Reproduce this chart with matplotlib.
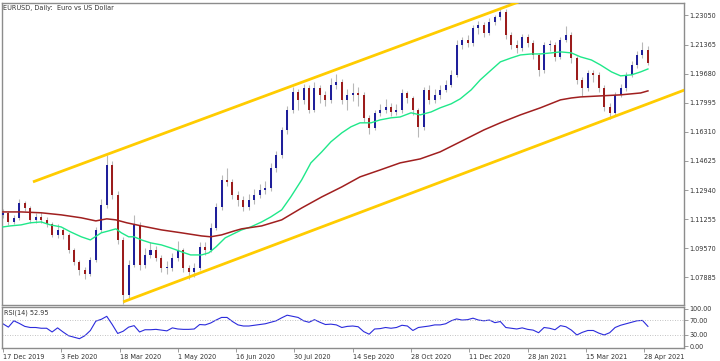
import matplotlib.pyplot as plt
import numpy as np

# EURUSD daily, one candle per 3 trading days
title = "EURUSD, Daily:  Euro vs US Dollar"
bar_step = 3
first_open = 1.1150

closes = [1.1162, 1.1109, 1.1133, 1.1219, 1.1190, 1.1121, 1.1138, 1.1121, 1.1098, 1.1034,
          1.1063, 1.1034, 1.0947, 1.0878, 1.0831, 1.0808, 1.0889, 1.1063, 1.1208, 1.1439,
          1.1266, 1.1005, 1.0687, 1.0860, 1.1092, 1.0860, 1.0918, 1.0947, 1.0901, 1.0843,
          1.0843, 1.0901, 1.0947, 1.0843, 1.0820, 1.0843, 1.0965, 1.0947, 1.1075, 1.1196,
          1.1353, 1.1341, 1.1266, 1.1237, 1.1196, 1.1237, 1.1266, 1.1295, 1.1306, 1.1422,
          1.1497, 1.1642, 1.1758, 1.1862, 1.1816, 1.1885, 1.1758, 1.1885, 1.1845, 1.1816,
          1.1903, 1.1920, 1.1816, 1.1845, 1.1856, 1.1845, 1.1712, 1.1654, 1.1741, 1.1758,
          1.1775, 1.1746, 1.1758, 1.1856, 1.1827, 1.1758, 1.1659, 1.1874, 1.1816, 1.1845,
          1.1874, 1.1903, 1.1961, 1.2134, 1.2163, 1.2146, 1.2233, 1.2250, 1.2204, 1.2267,
          1.2296, 1.2325, 1.2192, 1.2134, 1.2117, 1.2181, 1.2146, 1.2076, 1.1989, 1.2134,
          1.2134, 1.2065, 1.2163, 1.2192, 1.2059, 1.1932, 1.1885, 1.1972, 1.1961, 1.1885,
          1.1775, 1.1741, 1.1845, 1.1885, 1.1961, 1.2018, 1.2076, 1.2105, 1.2030]
highs = [1.1185, 1.1175, 1.1150, 1.1240, 1.1230, 1.1200, 1.1160, 1.1165, 1.1140, 1.1110,
         1.1095, 1.1075, 1.1045, 1.0960, 1.0890, 1.0850, 1.0905, 1.1080, 1.1240, 1.1495,
         1.1460, 1.1290, 1.1020, 1.0890, 1.1147, 1.1110, 1.0960, 1.0990, 1.0970, 1.0920,
         1.0880, 1.0930, 1.1000, 1.0960, 1.0860, 1.0870, 1.0990, 1.0995, 1.1100, 1.1220,
         1.1380, 1.1420, 1.1360, 1.1290, 1.1260, 1.1270, 1.1300, 1.1330, 1.1345, 1.1450,
         1.1520, 1.1660, 1.1780, 1.1890, 1.1880, 1.1910, 1.1900, 1.1920, 1.1900, 1.1870,
         1.1940, 1.1966, 1.1935, 1.1880, 1.1915, 1.1890, 1.1860, 1.1730, 1.1760, 1.1790,
         1.1820, 1.1800, 1.1790, 1.1880, 1.1870, 1.1840, 1.1770, 1.1890, 1.1900, 1.1880,
         1.1900, 1.1930, 1.1990, 1.2160, 1.2180, 1.2190, 1.2250, 1.2275, 1.2265, 1.2290,
         1.2310, 1.2349, 1.2340, 1.2210, 1.2160, 1.2200, 1.2195, 1.2160, 1.2090, 1.2150,
         1.2165, 1.2150, 1.2180, 1.2243, 1.2210, 1.2070, 1.1950, 1.1990, 1.1990, 1.1975,
         1.1900, 1.1800, 1.1860, 1.1910, 1.1980, 1.2040, 1.2100, 1.2150, 1.2130]
lows = [1.1130, 1.1090, 1.1095, 1.1120, 1.1170, 1.1100, 1.1105, 1.1100, 1.1080, 1.1020,
        1.1015, 1.1010, 1.0930, 1.0860, 1.0800, 1.0778, 1.0795, 1.0875, 1.1050, 1.1190,
        1.1240, 1.0980, 1.0636, 1.0670, 1.0850, 1.0830, 1.0840, 1.0900, 1.0880, 1.0820,
        1.0810, 1.0825, 1.0885, 1.0820, 1.0780, 1.0790, 1.0830, 1.0920, 1.0935, 1.1060,
        1.1180, 1.1320, 1.1240, 1.1200, 1.1170, 1.1180, 1.1215, 1.1250, 1.1270, 1.1290,
        1.1400, 1.1480, 1.1620, 1.1740, 1.1760, 1.1790, 1.1740, 1.1745, 1.1800, 1.1780,
        1.1800, 1.1880, 1.1790, 1.1760, 1.1810, 1.1780, 1.1690, 1.1620, 1.1640, 1.1720,
        1.1740, 1.1720, 1.1730, 1.1740, 1.1800, 1.1730, 1.1603, 1.1640, 1.1790, 1.1800,
        1.1820, 1.1860, 1.1890, 1.1950, 1.2110, 1.2120, 1.2130, 1.2200, 1.2180, 1.2190,
        1.2250, 1.2280, 1.2170, 1.2110, 1.2090, 1.2100, 1.2120, 1.2050, 1.1952, 1.1970,
        1.2100, 1.2040, 1.2050, 1.2150, 1.2030, 1.1910, 1.1836, 1.1870, 1.1920, 1.1860,
        1.1750, 1.1704, 1.1730, 1.1830, 1.1870, 1.1950, 1.2000, 1.2060, 1.2020]

# moving averages (bar index, price)
green_bars = [0, 4, 10, 15, 21, 26, 32, 37, 43, 48, 54, 58, 62, 65, 69, 72, 76, 81, 87, 92,
              98, 103, 109, 113, 117, 122, 131, 136, 142, 147, 153, 158, 164, 169, 175, 180,
              186, 191, 196, 202, 207, 213, 218, 224, 229, 235, 240, 246, 251, 257, 262, 268,
              273, 279, 284, 290, 295, 301, 306, 312, 317, 323, 328, 334, 339, 345, 350, 354]
green_ma = [1.1080, 1.1086, 1.1092, 1.1104, 1.1109, 1.1092, 1.1080, 1.1052, 1.1023, 1.1005,
            1.1046, 1.1057, 1.1069, 1.1046, 1.1023, 1.1023, 1.1005, 1.0988, 1.0976, 1.0959,
            1.0936, 1.0918, 1.0918, 1.0930, 1.0965, 1.1017, 1.1063, 1.1080, 1.1109, 1.1138,
            1.1179, 1.1254, 1.1353, 1.1451, 1.1515, 1.1573, 1.1625, 1.1660, 1.1683, 1.1683,
            1.1700, 1.1712, 1.1717, 1.1741, 1.1729, 1.1746, 1.1770, 1.1793, 1.1822, 1.1874,
            1.1932, 1.1989, 1.2036, 1.2059, 1.2076, 1.2082, 1.2082, 1.2088, 1.2094, 1.2088,
            1.2065, 1.2047, 1.2018, 1.1978, 1.1955, 1.1961, 1.1978, 1.1995]
red_bars = [0, 10, 21, 32, 43, 51, 57, 62, 68, 76, 87, 98, 109, 114, 120, 127, 131, 142, 153,
            164, 175, 186, 196, 207, 218, 229, 240, 251, 264, 273, 284, 295, 306, 312, 317,
            328, 339, 350, 354]
red_ma = [1.1167, 1.1167, 1.1162, 1.1150, 1.1133, 1.1115, 1.1127, 1.1121, 1.1104, 1.1086,
          1.1063, 1.1046, 1.1028, 1.1023, 1.1034, 1.1057, 1.1069, 1.1086, 1.1121, 1.1190,
          1.1254, 1.1312, 1.1370, 1.1410, 1.1451, 1.1474, 1.1515, 1.1573, 1.1642, 1.1683,
          1.1729, 1.1770, 1.1816, 1.1827, 1.1833, 1.1839, 1.1845, 1.1856, 1.1868]

# trend channel end points (bar, price)
upper_bars = [16.5, 283]
upper_prices = [1.1341, 1.2383]
lower_bars = [66, 374.3]
lower_prices = [1.0646, 1.1874]

rsi = [60, 51, 68, 61, 53, 50, 50, 48, 48, 38, 49, 38, 28, 24, 20, 28, 42, 67, 72, 80,
       58, 34, 40, 51, 55, 38, 44, 44, 45, 43, 41, 49, 46, 45, 45, 46, 58, 57, 62, 70,
       77, 77, 66, 57, 54, 54, 56, 58, 60, 64, 68, 76, 83, 80, 77, 68, 64, 71, 64, 58,
       59, 57, 50, 53, 54, 52, 39, 32, 46, 47, 50, 48, 50, 56, 54, 42, 50, 52, 54, 57,
       57, 60, 68, 73, 70, 71, 75, 70, 68, 70, 63, 66, 50, 48, 46, 49, 45, 43, 36, 50,
       48, 44, 55, 52, 43, 30, 37, 42, 42, 35, 30, 36, 50, 56, 60, 64, 68, 69, 53]
rsi_last = 52.95

price_ticks = [1.07885, 1.09570, 1.11255, 1.12940, 1.14625, 1.16310, 1.17995, 1.19680,
               1.21365, 1.23050]
date_ticks = [0, 32, 64, 96, 128, 160, 192, 224, 256, 288, 320, 352]
date_labels = ["17 Dec 2019", "3 Feb 2020", "18 Mar 2020", "1 May 2020", "16 Jun 2020",
               "30 Jul 2020", "14 Sep 2020", "28 Oct 2020", "11 Dec 2020", "28 Jan 2021",
               "15 Mar 2021", "28 Apr 2021"]

W, H = 720, 361
fig = plt.figure(figsize=(W / 100, H / 100), dpi=100)
ax = fig.add_axes([2 / W, 1 - 305 / H, 682 / W, 302 / H])
ax2 = fig.add_axes([2 / W, 1 - 348 / H, 682 / W, 41 / H], sharex=ax)

frame = "#8c8c8c"
txt = "#333333"
fs = 4.7

# candles
closes = np.array(closes)
opens = np.concatenate([[first_open], closes[:-1]])
x = np.arange(len(closes)) * bar_step
up = closes >= opens
ax.vlines(x, lows, highs, color="#b8b8b8", lw=0.8, zorder=2)
body_h = np.maximum(np.abs(closes - opens), 0.0003)
body_b = np.minimum(opens, closes)
ax.bar(x[up], body_h[up], bottom=body_b[up], width=1.1, color="#1f1f9a", zorder=3)
ax.bar(x[~up], body_h[~up], bottom=body_b[~up], width=1.1, color="#9b1c1c", zorder=3)

ax.plot(green_bars, green_ma, color="#1fe88a", lw=1.0, zorder=4)
ax.plot(red_bars, red_ma, color="#a01f1f", lw=1.1, zorder=4)
ax.plot(upper_bars, upper_prices, color="#ffcc00", lw=2.0, zorder=5, solid_capstyle="butt")
ax.plot(lower_bars, lower_prices, color="#ffcc00", lw=2.0, zorder=5, solid_capstyle="butt")

ax.set_xlim(-0.5, 373.8)
ax.set_ylim(1.0628, 1.2377)
ax.yaxis.tick_right()
ax.set_yticks(price_ticks)
ax.set_yticklabels([f"{v:.5f}" for v in price_ticks])
ax.tick_params(axis="y", length=3, width=0.6, color=frame, labelsize=fs,
               labelcolor=txt, pad=1)
ax.tick_params(axis="x", bottom=False, labelbottom=False)
for s in ax.spines.values():
    s.set_color(frame)
    s.set_linewidth(1.0)
ax.text(0.002, 0.995, title, transform=ax.transAxes, va="top", ha="left",
        fontsize=fs, color=txt)

# RSI panel
ax2.plot(x, rsi, color="#2b2bdc", lw=0.8)
for lvl in (30, 70):
    ax2.axhline(lvl, color="#b0b0b0", lw=0.6, ls=(0, (1, 2)))
ax2.set_ylim(-5, 105)
ax2.yaxis.tick_right()
ax2.set_yticks([0, 30, 70, 100])
ax2.set_yticklabels(["0.00", "30.00", "70.00", "100.00"])
ax2.tick_params(axis="y", length=3, width=0.6, color=frame, labelsize=fs,
                labelcolor=txt, pad=1)
ax2.set_xticks(date_ticks)
ax2.set_xticklabels(date_labels)
ax2.tick_params(axis="x", length=3, width=0.6, color=frame, labelsize=fs,
                labelcolor=txt, pad=1)
for lab in ax2.get_xticklabels():
    lab.set_ha("left")
for s in ax2.spines.values():
    s.set_color(frame)
    s.set_linewidth(1.0)
ax2.text(0.003, 0.93, f"RSI(14) {rsi_last:.2f}", transform=ax2.transAxes, va="top",
         ha="left", fontsize=fs, color=txt)

fig.savefig("out.png", dpi=100)
